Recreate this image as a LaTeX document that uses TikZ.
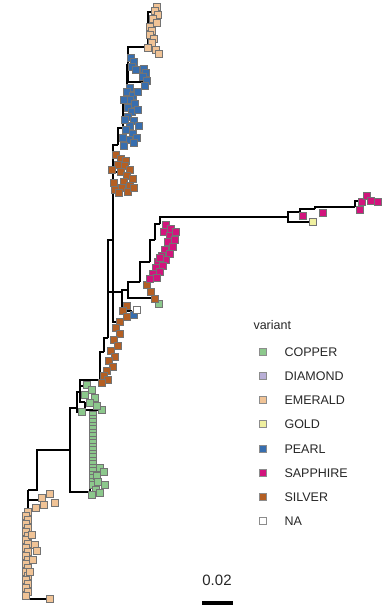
\documentclass[tikz,border=0pt]{standalone}
\usepackage{fontspec}
\setmainfont{Liberation Sans}
\definecolor{copper}{RGB}{140,200,140}
\definecolor{diamond}{RGB}{185,175,215}
\definecolor{emerald}{RGB}{240,195,150}
\definecolor{gold}{RGB}{240,240,160}
\definecolor{pearl}{RGB}{55,110,175}
\definecolor{sapphire}{RGB}{210,20,125}
\definecolor{silver}{RGB}{180,95,35}
\definecolor{nacol}{RGB}{255,255,255}
\tikzset{
  branch/.style={line width=1.8pt, black},
  tip/.style={draw=black!55, line width=0.4pt, minimum size=7pt, inner sep=0pt, fill=#1},
  keybox/.style={draw=black!45, line width=0.4pt, minimum size=7pt, inner sep=0pt, fill=#1},
  keytext/.style={anchor=west, font=\fontsize{12.5}{13}\selectfont, text=black!85},
}
\begin{document}
\begin{tikzpicture}[x=1pt,y=-1pt]
\useasboundingbox (0,0) rectangle (381,611);
% internal nodes
\coordinate (r) at (37,470);
\coordinate (a1) at (70,450);
\coordinate (e0) at (28,490);
\coordinate (eT) at (42,500);
\coordinate (eL) at (50,599);
\coordinate (g0) at (90,492);
\coordinate (gTop) at (90,415);
\coordinate (gB) at (100,493);
\coordinate (n2) at (77,408);
\coordinate (gt1) at (83,412);
\coordinate (n3) at (80,392);
\coordinate (gt2) at (88,386);
\coordinate (nb) at (85,402);
\coordinate (nbt) at (102,410);
\coordinate (n4) at (100,380);
\coordinate (s2) at (104,352);
\coordinate (t0) at (108,338);
\coordinate (tS) at (122,292);
\coordinate (nb0) at (132,311);
\coordinate (t2) at (113,240);
\coordinate (st2) at (120,322);
\coordinate (c1) at (128,290);
\coordinate (sa) at (140,282);
\coordinate (sb) at (152,298);
\coordinate (sc) at (150,262);
\coordinate (sd) at (155,240);
\coordinate (se) at (160,224);
\coordinate (L) at (288,217);
\coordinate (gd) at (313,222);
\coordinate (P1) at (300,212);
\coordinate (P2) at (315,209);
\coordinate (P3) at (355,207);
\coordinate (P3t) at (362,201);
\coordinate (tTop) at (113,150);
\coordinate (st) at (118,172);
\coordinate (pA) at (118,145);
\coordinate (pB) at (123,128);
\coordinate (pC) at (127,100);
\coordinate (pD) at (128,65);
\coordinate (pe) at (143,82);
\coordinate (Et) at (148,47);
\coordinate (Etop) at (151,12);
% branches
\foreach \p/\c in {r/a1, r/e0, e0/eL, e0/eT, a1/g0, a1/n2, n2/gt1, n2/n3, n3/gt2, n3/nb, nb/nbt, n3/n4,
  n4/s2, s2/t0, t0/tS, t0/t2, tS/nb0, t2/tTop, t2/st2, tS/c1, c1/sa, c1/sb, sa/sc, sc/sd, sd/se, se/L,
  L/gd, L/P1, P1/P2, P2/P3, P3/P3t, tTop/st, tTop/pA, pA/pB, pB/pC, pC/pD, pD/Et, pD/pe, Et/Etop, g0/gB}
  \draw[branch] (\p) |- (\c);
\draw[branch] (g0) -- (gTop);
% emerald bottom clade
\foreach \y [count=\i] in {512,516,...,596}
  \node[tip=emerald] (eb\i) at ({26+2*mod(\i,2)},\y) {};
\foreach \x/\y [count=\i] in {32/535,35/545,37/551,33/560,30/572,42/498,50/494,55/503,44/505,36/508,50/599}
  \node[tip=emerald] (ebo\i) at (\x,\y) {};
% copper column
\foreach \y [count=\i] in {415,418.5,...,486}
  \node[tip=copper] (gc\i) at (93,\y) {};
\foreach \x/\y [count=\i] in {100/468,104/472,97/476,98/482,105/485,96/490,92/495,100/493,
  87/385,92/390,95/398,90/403,82/412,102/410,97/406,85/395,159/304}
  \node[tip=copper] (gco\i) at (\x,\y) {};
% silver
\foreach \x/\y [count=\i] in {127/306,123/311,127/317,120/322,116/328,120/334,114/340,118/346,111/351,115/357,
  109/361,113/367,107/371,104/376,108/380,102/383,
  147/285,151/292,155/299,
  116/155,121/159,126/161,118/165,125/166,130/170,121/172,127/176,133/179,124/182,130/186,122/188,115/190,119/193,114/183,
  128/192,134/188,112/170}
  \node[tip=silver] (sv\i) at (\x,\y) {};
% sapphire
\foreach \x/\y [count=\i] in {166/225,171/229,164/232,170/236,175/240,168/242,173/247,165/250,170/254,162/256,
  166/260,158/262,163/266,156/268,160/272,153/274,157/278,150/279,176/232,160/258,
  303/216,323/213,362/202,367/196,371/201,378/202,360/210}
  \node[tip=sapphire] (sp\i) at (\x,\y) {};
\node[tip=gold] (gd1) at (313,222) {};
% pearl
\foreach \x/\y [count=\i] in {130/88,127/92,133/96,130/100,135/104,128/108,132/112,128/117,134/121,130/126,
  126/130,133/134,137/138,129/140,134/143,124/146,138/92,124/100,138/110,125/120,139/126,123/138,
  131/58,134/62,132/67,136/70,
  144/69,146/73,143/77,147/81,145/86, 134/315}
  \node[tip=pearl] (pl\i) at (\x,\y) {};
\node[tip=nacol] (na1) at (137,310) {};
% emerald top
\foreach \x/\y [count=\i] in {157/7,155/11,158/15,153/19,157/23,150/27,152/31,150/35,154/39,152/43,148/48,156/50,159/54}
  \node[tip=emerald] (et\i) at (\x,\y) {};
% legend
\node[anchor=base west, font=\fontsize{12.5}{13}\selectfont, text=black!85] (lt) at (250,329) {variant};
\foreach \c/\t/\y [count=\i] in {copper/COPPER/352, diamond/DIAMOND/376, emerald/EMERALD/400, gold/GOLD/424,
  pearl/PEARL/449, sapphire/SAPPHIRE/473, silver/SILVER/497, nacol/NA/521}
  {\node[keybox=\c] (kb\i) at (263,\y) {};
   \node[keytext] (kt\i) at (281,\y) {\t};}
% scale bar
\node[font=\fontsize{15}{15}\selectfont, text=black!85] (sl) at (217,580) {0.02};
\coordinate (bar1) at (202,603);
\coordinate (bar2) at (233,603);
\draw[line width=4pt] (bar1) -- (bar2);
\end{tikzpicture}
\end{document}
